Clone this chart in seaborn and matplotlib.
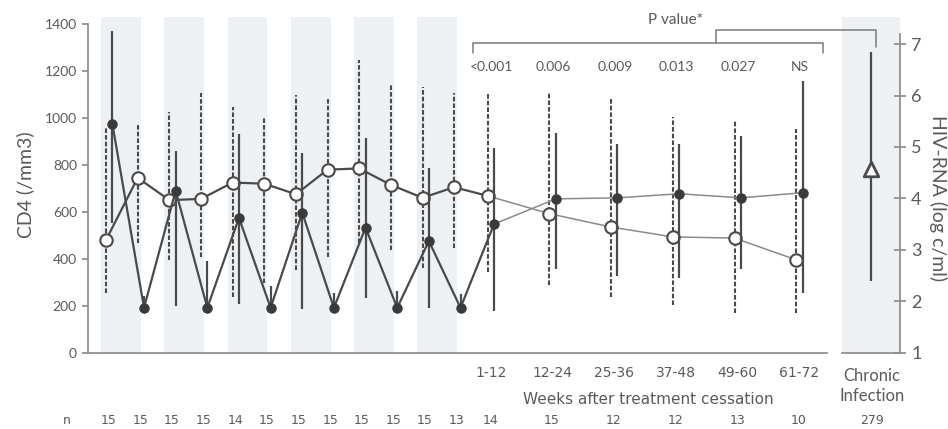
import numpy as np
import pandas as pd
import seaborn as sns
import matplotlib.pyplot as plt
from matplotlib.lines import Line2D
from matplotlib.transforms import blended_transform_factory

# --- data ---
# 12 visits during the interruption cycles, then 6 windows after cessation
treat_n = [15, 15, 15, 15, 14, 15, 15, 15, 15, 15, 15, 13]
post_labels = ['1-12', '12-24', '25-36', '37-48', '49-60', '61-72']
post_n = [14, 15, 12, 12, 13, 10]
p_values = ['<0.001', '0.006', '0.009', '0.013', '0.027', 'NS']

# CD4 (/mm3): open circles, dashed range
cd4 = [480, 745, 650, 655, 725, 720, 675, 780, 785, 715, 660, 705,
       668, 592, 535, 493, 488, 395]
cd4_lo = [255, 468, 395, 408, 238, 297, 350, 408, 468, 438, 361, 447,
          344, 289, 237, 203, 168, 168]
cd4_hi = [963, 980, 1027, 1107, 1048, 1006, 1099, 1086, 1248, 1142, 1133, 1107,
          1107, 1113, 1091, 1006, 993, 953]

# HIV-RNA (log c/ml): filled circles, solid range
rna = [5.45, 1.87, 4.15, 1.87, 3.62, 1.87, 3.72, 1.87, 3.43, 1.87, 3.17, 1.87,
       3.50, 3.99, 4.01, 4.09, 4.01, 4.11]
rna_lo = [3.52, 1.87, 1.90, 1.87, 1.95, 1.87, 1.85, 1.87, 2.06, 1.87, 1.87, 1.87,
          1.81, 2.63, 2.49, 2.45, 2.62, 2.16]
rna_hi = [7.26, 2.10, 4.92, 2.78, 5.25, 2.30, 4.88, 2.16, 5.18, 2.20, 4.59, 2.14,
          4.99, 5.28, 5.05, 5.05, 5.22, 6.29]

# chronic infection reference group
chronic_rna = 4.57
chronic_lo = 2.39
chronic_hi = 6.84
chronic_n = 279

# --- layout helpers ---
W, H = 948, 429
treat_x = np.arange(1, 13) * 0.5
post_x = 6.53 + 0.975 * np.arange(6)
x_open = np.concatenate([treat_x, post_x])
x_fill = x_open + 0.1
df = pd.DataFrame({'x_open': x_open, 'x_fill': x_fill, 'cd4': cd4, 'rna': rna})

dark = '#4a4a4a'
light = '#8a8a8a'
txt = '#5a5a5a'
shade = '#edf1f4'

sns.set_theme(style='white')
plt.rcParams['font.family'] = ['Lato', 'DejaVu Sans']

fig = plt.figure(figsize=(W / 100, H / 100), dpi=100)


def fx(px):
    return px / W


def fy(py):
    return 1 - py / H


ax_box = [fx(88), fy(352.5), fx(827) - fx(88), fy(17) - fy(352.5)]
ax = fig.add_axes(ax_box)
ax2 = ax.twinx()
cx = fig.add_axes([fx(842), fy(352.5), fx(900) - fx(842), fy(17) - fy(352.5)])

cd4_top = 1431
rna_top = 7.53
ax.set_xlim(0.215, 11.89)
ax.set_ylim(0, cd4_top)
ax2.set_ylim(1, rna_top)
cx.set_ylim(1, rna_top)
cx.set_xlim(0, 1)

# shaded on-treatment periods
for k in range(6):
    ax.axvspan(treat_x[2 * k] - 0.08, treat_x[2 * k + 1] + 0.05, color=shade, lw=0, zorder=0)
cx.set_facecolor(shade)

# range bars
ax.vlines(x_open, cd4_lo, cd4_hi, colors=dark, lw=1.5, linestyles=(0, (2.2, 1.0)), zorder=2)
ax2.vlines(x_fill, rna_lo, rna_hi, colors=dark, lw=1.6, zorder=2)

# connecting lines: heavier during cycles, lighter after cessation
for a, xcol, ycol in [(ax, 'x_open', 'cd4'), (ax2, 'x_fill', 'rna')]:
    sns.lineplot(data=df.iloc[:13], x=xcol, y=ycol, ax=a, color=dark, lw=1.6, sort=False, zorder=3)
    sns.lineplot(data=df.iloc[12:], x=xcol, y=ycol, ax=a, color=light, lw=1.1, sort=False, zorder=3)

sns.scatterplot(data=df, x='x_open', y='cd4', ax=ax, s=80, color='white',
                edgecolor=dark, linewidth=1.5, zorder=4)
sns.scatterplot(data=df, x='x_fill', y='rna', ax=ax2, s=45, color='#3a3a3a',
                edgecolor='#3a3a3a', linewidth=0.8, zorder=5)

# chronic infection panel
cx.vlines([0.5], [chronic_lo], [chronic_hi], colors=dark, lw=1.6)
sns.scatterplot(x=[0.5], y=[chronic_rna], ax=cx, marker='^', s=110, color='white',
                edgecolor=dark, linewidth=2, zorder=4)

# axes styling
for a in (ax, ax2, cx):
    a.set_xlabel('')
    a.set_ylabel('')
    for s in a.spines.values():
        s.set_visible(False)
        s.set_color('#8c8c8c')

ax.spines['left'].set_visible(True)
ax.spines['left'].set_bounds(0, 1400)
ax.spines['bottom'].set_visible(True)
ax.set_yticks(np.arange(0, 1401, 200))
ax.tick_params(axis='y', direction='out', length=4, color='#8c8c8c',
               labelcolor=txt, labelsize=10, pad=4)
xt = list(range(1, 7)) + list(post_x + 0.05)
ax.set_xticks(xt, [''] * 6 + post_labels, family='DejaVu Sans')
ax.tick_params(axis='x', direction='inout', length=7, color='#8c8c8c',
               labelcolor=txt, labelsize=10, pad=6)

ax2.set_yticks([])
ax2.tick_params(axis='x', bottom=False, top=False, labelbottom=False, labeltop=False)

cx.spines['right'].set_visible(True)
cx.spines['right'].set_bounds(1, 7.2)
cx.spines['bottom'].set_visible(True)
cx.set_xticks([])
cx.yaxis.tick_right()
cx.set_yticks(range(1, 8))
cx.tick_params(axis='y', direction='inout', length=8, color='#8c8c8c',
               labelcolor=txt, labelsize=13, pad=4)

# axis titles
fig.text(fx(25), fy(185), 'CD4 (/mm3)', rotation=90, ha='center', va='center',
         fontsize=14, color=txt)
fig.text(fx(938), fy(198), 'HIV-RNA (log c/ml)', rotation=-90, ha='center', va='center',
         fontsize=14, color=txt)
fig.text(fx(648), fy(399), 'Weeks after treatment cessation', ha='center', va='center',
         fontsize=11, color=txt, family='DejaVu Sans')
fig.text(fx(872), fy(386), 'Chronic\nInfection', ha='center', va='center',
         fontsize=12, color=txt, linespacing=1.25)

# n row
tr = blended_transform_factory(ax.transData, fig.transFigure)
for xv, nv in zip(x_open, treat_n + post_n):
    ax.text(xv + 0.04, fy(420), str(nv), transform=tr, ha='center', va='center',
            fontsize=9, color=txt, family='DejaVu Sans')
fig.text(fx(67), fy(420), 'n', ha='center', va='center', fontsize=9, color=txt,
         family='DejaVu Sans')
fig.text(fx(872), fy(420), str(chronic_n), ha='center', va='center', fontsize=9,
         color=txt, family='DejaVu Sans')

# p values and brackets
tp = blended_transform_factory(ax.transData, ax.transAxes)
for xv, pv in zip(post_x, p_values):
    ax.text(xv + 0.06, (352.5 - 67) / 335.5, pv, transform=tp, ha='center', va='center',
            fontsize=10, color=txt)
fig.text(fx(675), fy(20), 'P value*', ha='center', va='center', fontsize=11, color=txt)


def bracket(pts):
    xs = [fx(p[0]) for p in pts]
    ys = [fy(p[1]) for p in pts]
    fig.add_artist(Line2D(xs, ys, color='#7a7a7a', lw=1.1, transform=fig.transFigure))


bracket([(473, 53), (473, 43), (823, 43), (823, 53)])
bracket([(716, 43), (716, 30), (876, 30), (876, 47)])

fig.savefig('out.png', dpi=100)
